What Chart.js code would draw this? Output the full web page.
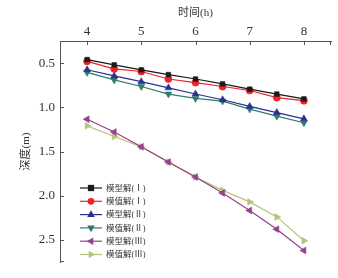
<!DOCTYPE html>
<html>
<head>
<meta charset="utf-8">
<script src="https://cdn.jsdelivr.net/npm/chart.js@4/dist/chart.umd.min.js"></script>
<style>
html,body{margin:0;padding:0;background:#fff;}
#wrap{width:338px;height:278px;position:relative;}
</style>
</head>
<body>
<div id="wrap"><canvas id="c" width="338" height="278"></canvas></div>
<script>
const times = [4, 4.5, 5, 5.5, 6, 6.5, 7, 7.5, 8];
const modelI   = [0.46, 0.52, 0.576, 0.63, 0.68, 0.735, 0.795, 0.85, 0.905];
const numI     = [0.48, 0.565, 0.595, 0.68, 0.72, 0.765, 0.81, 0.89, 0.925];
const modelII  = [0.575, 0.645, 0.71, 0.78, 0.85, 0.915, 0.99, 1.06, 1.13];
const numII    = [0.605, 0.69, 0.765, 0.85, 0.9, 0.93, 1.02, 1.10, 1.175];
const modelIII = [1.135, 1.28, 1.447, 1.618, 1.789, 1.97, 2.167, 2.38, 2.62];
const numIII   = [1.21, 1.33, 1.447, 1.62, 1.79, 1.94, 2.07, 2.24, 2.51];
const xTicks = [4, 5, 6, 7, 8];
const yTicks = [0.5, 1.0, 1.5, 2.0, 2.5];
const seriesNames = ['模型解(Ⅰ)', '模值解(Ⅰ)', '模型解(Ⅱ)', '模值解(Ⅱ)', '模型解(Ⅲ)', '模值解(Ⅲ)'];
const xTitle = '时间(h)';
const yTitle = '深度(m)';

const styles = [
  {color:'#1a1a1a', style:'rect', rot:0, r:3.3},
  {color:'#ee2229', style:'circle', rot:0, r:3.6},
  {color:'#2b3190', style:'triangle', rot:0, r:4},
  {color:'#2e7c6c', style:'triangle', rot:180, r:4},
  {color:'#97418b', style:'triangle', rot:-90, r:4},
  {color:'#b6c47a', style:'triangle', rot:90, r:4}
];
const seriesData = [modelI, numI, modelII, numII, modelIII, numIII];

const datasets = seriesData.map((vals, i) => ({
  label: seriesNames[i],
  data: times.map((t, j) => ({x: t, y: vals[j]})),
  borderColor: styles[i].color,
  backgroundColor: styles[i].color,
  borderWidth: 1.2,
  pointStyle: styles[i].style,
  pointRotation: styles[i].rot,
  pointRadius: styles[i].r,
  pointBorderWidth: 0.5,
  tension: 0
}));

function drawMarker(ctx, st, x, y) {
  ctx.save();
  ctx.translate(x, y);
  ctx.rotate(st.rot * Math.PI / 180);
  ctx.fillStyle = st.color;
  ctx.beginPath();
  const r = st.r * 0.95;
  if (st.style === 'rect') {
    ctx.rect(-r, -r, 2*r, 2*r);
  } else if (st.style === 'circle') {
    ctx.arc(0, 0, r, 0, Math.PI*2);
  } else {
    ctx.moveTo(0, -r*1.15);
    ctx.lineTo(r*1.0, r*0.6);
    ctx.lineTo(-r*1.0, r*0.6);
    ctx.closePath();
  }
  ctx.fill();
  ctx.restore();
}

const axisColor = '#555';
const extras = {
  id: 'extras',
  afterDraw(chart) {
    const ctx = chart.ctx;
    const a = chart.chartArea;
    const xs = chart.scales.x, ys = chart.scales.y;
    ctx.save();
    ctx.strokeStyle = axisColor;
    ctx.lineWidth = 1;
    ctx.beginPath();
    xTicks.forEach(v => {
      const px = Math.round(xs.getPixelForValue(v)) + 0.5;
      ctx.moveTo(px, a.top); ctx.lineTo(px, a.top + 4);
    });
    ctx.moveTo(Math.round(a.right) - 0.5, a.top); ctx.lineTo(Math.round(a.right) - 0.5, a.top + 4);
    yTicks.forEach(v => {
      const py = Math.round(ys.getPixelForValue(v)) + 0.5;
      ctx.moveTo(a.left, py); ctx.lineTo(a.left + 4, py);
    });
    ctx.moveTo(a.left, Math.round(a.bottom) - 0.5); ctx.lineTo(a.left + 4, Math.round(a.bottom) - 0.5);
    ctx.stroke();

    // legend
    const lx0 = 80, lx1 = 102, tx = 106, y0 = 188, dy = 13.3;
    ctx.font = '8.5px "Liberation Serif", "Noto Sans CJK SC", serif';
    ctx.textBaseline = 'middle';
    ctx.textAlign = 'left';
    styles.forEach((st, i) => {
      const y = y0 + i * dy;
      ctx.strokeStyle = st.color;
      ctx.lineWidth = 1.2;
      ctx.beginPath();
      ctx.moveTo(lx0, y); ctx.lineTo(lx1, y);
      ctx.stroke();
      drawMarker(ctx, st, (lx0 + lx1) / 2, y);
      ctx.fillStyle = '#333';
      ctx.fillText(seriesNames[i], tx, y + 0.5);
    });
    ctx.restore();
  }
};

new Chart(document.getElementById('c'), {
  type: 'line',
  data: { datasets },
  plugins: [extras],
  options: {
    responsive: false,
    animation: false,
    events: [],
    layout: { padding: { top: 0, left: 0, right: 7, bottom: 16 } },
    plugins: { legend: { display: false }, tooltip: { enabled: false } },
    scales: {
      x: {
        type: 'linear',
        position: 'top',
        min: 3.5, max: 8.5,
        afterBuildTicks: s => { s.ticks = xTicks.map(v => ({value: v})); },
        afterFit: s => { s.height = 41; },
        grid: { display: false, drawTicks: false },
        border: { display: true, color: axisColor, width: 1 },
        ticks: {
          color: '#333', padding: 2, maxRotation: 0,
          font: { family: '"Liberation Serif", serif', size: 13 },
          callback: v => String(v)
        },
        title: {
          display: true, text: xTitle, color: '#333',
          font: { family: '"Liberation Serif", "Noto Sans CJK SC", serif', size: 11 },
          padding: { top: 7, bottom: 0 }
        }
      },
      y: {
        type: 'linear',
        reverse: true,
        min: 0.25, max: 2.75,
        afterBuildTicks: s => { s.ticks = yTicks.map(v => ({value: v})); },
        afterFit: s => { s.width = 60; },
        grid: { display: false, drawTicks: false },
        border: { display: true, color: axisColor, width: 1 },
        ticks: {
          color: '#333', padding: 5,
          font: { family: '"Liberation Serif", serif', size: 13 },
          callback: v => Number(v).toFixed(1)
        },
        title: {
          display: true, text: yTitle, color: '#333',
          font: { family: '"Liberation Serif", "Noto Sans CJK SC", serif', size: 11 },
          padding: { top: 20, bottom: 0 }
        }
      }
    }
  }
});
</script>
</body>
</html>
